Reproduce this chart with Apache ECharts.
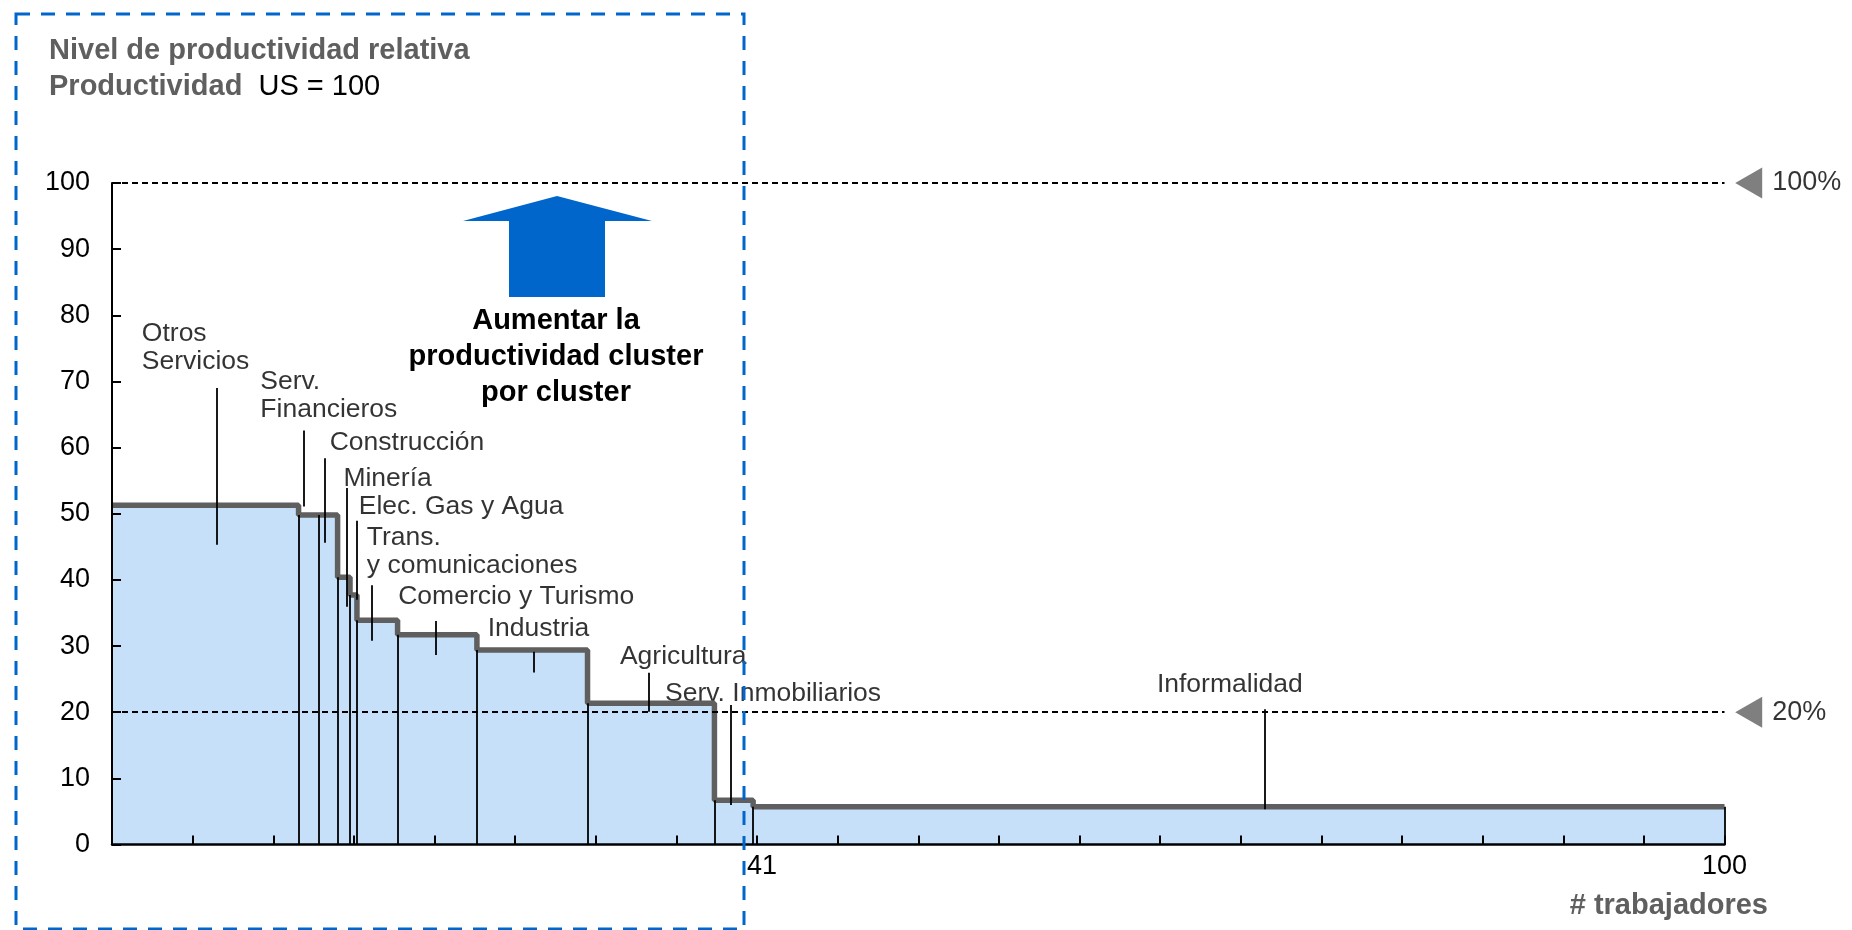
<!DOCTYPE html>
<html>
<head>
<meta charset="utf-8">
<title>Nivel de productividad relativa</title>
<script src="https://cdn.jsdelivr.net/npm/echarts@6.0.0/dist/echarts.min.js"></script>
<style>
  html, body { margin: 0; padding: 0; background: #fff; }
  #chart { width: 1852px; height: 930px; }
</style>
</head>
<body>
<div id="chart"></div>
<script>
// sectores, % acumulado de trabajadores al final de cada sector, productividad (US = 100)
var sectors = ['Otros\nServicios', 'Serv.\nFinancieros', 'Construcción', 'Minería', 'Elec. Gas y Agua',
  'Trans.\ny comunicaciones', 'Comercio y Turismo', 'Industria', 'Agricultura', 'Serv. Inmobiliarios', 'Informalidad'];
var workersEnd = [11.57, 12.81, 13.99, 14.76, 15.19, 17.71, 22.63, 29.49, 37.36, 39.76, 100];
var productivity = [51.3, 49.8, 49.8, 40.4, 37.7, 33.9, 31.7, 29.4, 21.35, 6.7, 5.7];

// etiquetas de los ejes
var xTickLabels = { 40: '41', 100: '100' };
var refLevels = [100, 20];
var refLabels = ['100%', '20%'];

// donde van los nombres de sector y sus lineas guia (unidades de los ejes)
var labelPos = [[1.85, 75.1], [9.2, 67.9], [13.5, 60.8], [14.35, 55.25], [15.3, 51.0], [15.8, 44.2],
  [17.75, 37.5], [23.3, 32.7], [31.5, 28.4], [34.3, 22.75], [64.8, 24.2]];
var leaderLines = [[6.49, 69.0, 45.3], [11.88, 62.6, 51.1], [13.2, 58.4, 45.6], [14.57, 53.9, 35.95],
  [15.19, 48.96, 37.0], [16.08, 39.2, 30.8], [20.1, 33.8, 28.65], [26.18, 29.15, 26.0],
  [33.27, 25.98, 20.08], [38.37, 21.1, 5.97], [71.5, 20.44, 5.32]];

(function () {
  var FONT = "'Liberation Sans', Arial, sans-serif";
  var GRAY = '#5f5f5f';

  var chart = echarts.init(document.getElementById('chart'));

  // escalones
  var stepData = [];
  var start = 0;
  for (var i = 0; i < productivity.length; i++) {
    stepData.push([start, productivity[i]]);
    stepData.push([workersEnd[i], productivity[i]]);
    start = workersEnd[i];
  }

  // lineas verticales finas entre sectores + lineas guia
  var thinLines = [];
  for (var j = 0; j < workersEnd.length; j++) {
    var h = j < workersEnd.length - 1 ? Math.min(productivity[j], productivity[j + 1]) : productivity[j];
    thinLines.push([{ coord: [workersEnd[j], 0] }, { coord: [workersEnd[j], h] }]);
  }
  leaderLines.forEach(function (l) {
    thinLines.push([{ coord: [l[0], l[2]] }, { coord: [l[0], l[1]] }]);
  });

  var option = {
    animation: false,
    textStyle: { fontFamily: FONT },
    grid: { left: 112, right: 127.5, top: 183, bottom: 85.5 },
    xAxis: {
      type: 'value', min: 0, max: 100, interval: 5, z: 5,
      axisLine: { lineStyle: { color: '#000', width: 2.5 } },
      axisTick: { inside: true, length: 9, lineStyle: { color: '#000', width: 2 } },
      axisLabel: {
        fontSize: 27, color: '#000', margin: 9, fontFamily: FONT,
        formatter: function (v) { return xTickLabels[v] ? (v === 40 ? '{r|' + xTickLabels[v] + '}' : xTickLabels[v]) : ''; },
        rich: { r: { fontSize: 27, color: '#000', fontFamily: FONT, padding: [0, 0, 0, 10] } }
      },
      splitLine: { show: false }
    },
    yAxis: {
      type: 'value', min: 0, max: 100, interval: 10, z: 5,
      axisLine: { show: true, lineStyle: { color: '#000', width: 2 } },
      axisTick: { show: true, inside: true, length: 9, lineStyle: { color: '#000', width: 2 } },
      axisLabel: { fontSize: 27, color: '#000', margin: 22, fontFamily: FONT },
      splitLine: { show: false }
    },
    series: [
      {
        name: 'productividad',
        type: 'line',
        data: stepData,
        symbol: 'none',
        silent: true,
        lineStyle: { color: GRAY, width: 5.5 },
        areaStyle: { color: '#c6e0f9', opacity: 1 },
        markLine: {
          silent: true,
          symbol: 'none',
          label: { show: false },
          lineStyle: { color: '#000', width: 1.8, type: 'solid' },
          data: thinLines
        }
      },
      {
        name: 'referencia',
        type: 'scatter',
        clip: false,
        silent: true,
        symbol: 'triangle',
        symbolRotate: 90,
        symbolSize: [31, 27],
        itemStyle: { color: GRAY },
        data: refLevels.map(function (v, k) { return { value: [101.5, v], name: refLabels[k] }; }),
        label: {
          show: true, position: 'right', distance: 10, formatter: '{b}',
          fontSize: 27, color: '#000', fontFamily: FONT
        },
        markLine: {
          silent: true,
          symbol: 'none',
          label: { show: false },
          lineStyle: { color: '#000', width: 1.8, type: [6, 4] },
          data: refLevels.map(function (v) { return { yAxis: v }; })
        }
      },
      {
        name: 'sectores',
        type: 'scatter',
        silent: true,
        symbolSize: 0,
        data: sectors.map(function (s, k) { return { value: labelPos[k], name: s }; }),
        label: {
          show: true, position: 'right', distance: 0, formatter: '{b}',
          fontSize: 26.5, lineHeight: 28, color: '#000', fontFamily: FONT, align: 'left'
        }
      }
    ],
    graphic: [
      {
        type: 'rect', z: 100, silent: true,
        shape: { x: 16, y: 14, width: 728, height: 915 },
        style: { fill: 'none', stroke: '#0066cc', lineWidth: 3, lineDash: [14, 11] }
      },
      {
        type: 'text', x: 49, y: 51, silent: true,
        style: { text: 'Nivel de productividad relativa', fontSize: 29, fontWeight: 'bold', fill: GRAY,
          fontFamily: FONT, textVerticalAlign: 'middle' }
      },
      {
        type: 'text', x: 49, y: 87, silent: true,
        style: {
          text: '{a|Productividad}{b|  US = 100}', fontFamily: FONT, textVerticalAlign: 'middle',
          rich: {
            a: { fontSize: 29, fontWeight: 'bold', fill: GRAY, fontFamily: FONT },
            b: { fontSize: 29, fill: '#000', fontFamily: FONT }
          }
        }
      },
      {
        type: 'polygon', silent: true,
        shape: { points: [[463, 221], [557, 196], [652, 221], [605, 221], [605, 297], [509, 297], [509, 221]] },
        style: { fill: '#0066cc' }
      },
      {
        type: 'text', x: 556, y: 357, silent: true,
        style: { text: 'Aumentar la\nproductividad cluster\npor cluster', fontSize: 29, fontWeight: 'bold',
          lineHeight: 36, fill: '#000', fontFamily: FONT, textAlign: 'center', textVerticalAlign: 'middle' }
      },
      {
        type: 'text', x: 1768, y: 906, silent: true,
        style: { text: '# trabajadores', fontSize: 29, fontWeight: 'bold', fill: GRAY, fontFamily: FONT,
          textAlign: 'right', textVerticalAlign: 'middle' }
      }
    ]
  };

  chart.setOption(option);
})();
</script>
</body>
</html>
